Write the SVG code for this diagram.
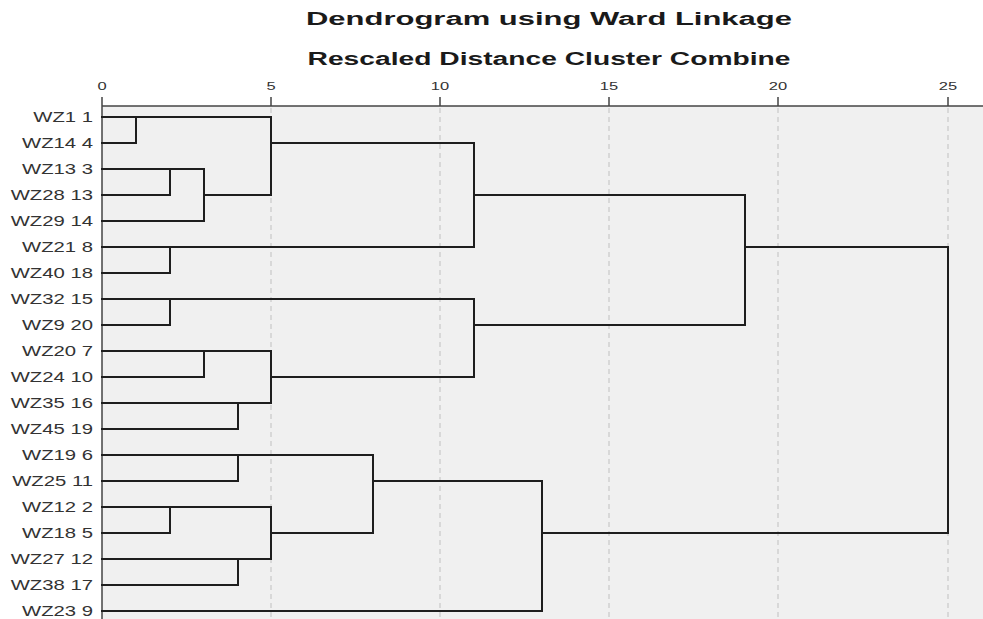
<svg xmlns="http://www.w3.org/2000/svg" width="983" height="619" viewBox="0 0 983 619">
<style>
.title{font-family:"Liberation Sans",Arial,sans-serif;font-weight:bold;font-size:18px;fill:#1a1a1a;text-anchor:middle}
.tick{font-family:"Liberation Sans",Arial,sans-serif;font-size:11px;fill:#333;text-anchor:middle}
.lbl{font-family:"Liberation Sans",Arial,sans-serif;font-size:14px;fill:#333;text-anchor:end}
.grid{stroke:#c9c9c9;stroke-width:1.2;stroke-dasharray:5,4;fill:none}
.axis{stroke:#444;stroke-width:1.5;fill:none}
.link{stroke:#1e1e1e;stroke-width:2;fill:none;stroke-linecap:square}
</style>
<rect x="0" y="0" width="983" height="619" fill="#ffffff"/>
<rect x="102" y="106" width="881" height="513" fill="#f0f0f0"/>
<g id="titles">
<text class="title" x="549" y="25" textLength="486" lengthAdjust="spacingAndGlyphs">Dendrogram using Ward Linkage</text>
<text class="title" x="549" y="65" textLength="483" lengthAdjust="spacingAndGlyphs">Rescaled Distance Cluster Combine</text>
</g>
<g id="grid">
<line class="grid" x1="271" y1="108" x2="271" y2="619"/>
<line class="grid" x1="440" y1="108" x2="440" y2="619"/>
<line class="grid" x1="609" y1="108" x2="609" y2="619"/>
<line class="grid" x1="778" y1="108" x2="778" y2="619"/>
<line class="grid" x1="948" y1="108" x2="948" y2="619"/>
</g>
<g id="axis">
<line class="axis" x1="102" y1="106" x2="983" y2="106"/>
<line class="axis" x1="102" y1="106" x2="102" y2="619"/>
<path class="axis" d="M102,97V106M271,97V106M440,97V106M609,97V106M778,97V106M948,97V106"/>
<text class="tick" transform="translate(102,90) scale(1.5,1)">0</text>
<text class="tick" transform="translate(271,90) scale(1.5,1)">5</text>
<text class="tick" transform="translate(440,90) scale(1.5,1)">10</text>
<text class="tick" transform="translate(609,90) scale(1.5,1)">15</text>
<text class="tick" transform="translate(778,90) scale(1.5,1)">20</text>
<text class="tick" transform="translate(948,90) scale(1.5,1)">25</text>
</g>
<g id="labels">
<g id="n-wz1-1"><text class="lbl" transform="translate(93,122) scale(1.45,1)">WZ1 1</text></g>
<g id="n-wz14-4"><text class="lbl" transform="translate(93,148) scale(1.45,1)">WZ14 4</text></g>
<g id="n-wz13-3"><text class="lbl" transform="translate(93,174) scale(1.45,1)">WZ13 3</text></g>
<g id="n-wz28-13"><text class="lbl" transform="translate(93,200) scale(1.45,1)">WZ28 13</text></g>
<g id="n-wz29-14"><text class="lbl" transform="translate(93,226) scale(1.45,1)">WZ29 14</text></g>
<g id="n-wz21-8"><text class="lbl" transform="translate(93,252) scale(1.45,1)">WZ21 8</text></g>
<g id="n-wz40-18"><text class="lbl" transform="translate(93,278) scale(1.45,1)">WZ40 18</text></g>
<g id="n-wz32-15"><text class="lbl" transform="translate(93,304) scale(1.45,1)">WZ32 15</text></g>
<g id="n-wz9-20"><text class="lbl" transform="translate(93,330) scale(1.45,1)">WZ9 20</text></g>
<g id="n-wz20-7"><text class="lbl" transform="translate(93,356) scale(1.45,1)">WZ20 7</text></g>
<g id="n-wz24-10"><text class="lbl" transform="translate(93,382) scale(1.45,1)">WZ24 10</text></g>
<g id="n-wz35-16"><text class="lbl" transform="translate(93,408) scale(1.45,1)">WZ35 16</text></g>
<g id="n-wz45-19"><text class="lbl" transform="translate(93,434) scale(1.45,1)">WZ45 19</text></g>
<g id="n-wz19-6"><text class="lbl" transform="translate(93,460) scale(1.45,1)">WZ19 6</text></g>
<g id="n-wz25-11"><text class="lbl" transform="translate(93,486) scale(1.45,1)">WZ25 11</text></g>
<g id="n-wz12-2"><text class="lbl" transform="translate(93,512) scale(1.45,1)">WZ12 2</text></g>
<g id="n-wz18-5"><text class="lbl" transform="translate(93,538) scale(1.45,1)">WZ18 5</text></g>
<g id="n-wz27-12"><text class="lbl" transform="translate(93,564) scale(1.45,1)">WZ27 12</text></g>
<g id="n-wz38-17"><text class="lbl" transform="translate(93,590) scale(1.45,1)">WZ38 17</text></g>
<g id="n-wz23-9"><text class="lbl" transform="translate(93,616) scale(1.45,1)">WZ23 9</text></g>
</g>
<g id="connectors">
<path class="link" d="M102,117H271M102,143H136V117"/>
<path class="link" d="M102,169H204M102,195H170V169M102,221H204V169M204,195H271V117M271,143H474"/>
<path class="link" d="M102,247H474M102,273H170V247M474,143V247M474,195H745"/>
<path class="link" d="M102,299H474M102,325H170V299"/>
<path class="link" d="M102,351H271M102,377H204V351M102,403H271M102,429H238V403M271,351V403M271,377H474M474,299V377M474,325H745M745,195V325M745,247H948"/>
<path class="link" d="M102,455H373M102,481H238V455"/>
<path class="link" d="M102,507H271M102,533H170V507M102,559H271M102,585H238V559M271,507V559M271,533H373M373,455V533M373,481H542"/>
<path class="link" d="M102,611H542V481M542,533H948V247"/>
</g>
</svg>
